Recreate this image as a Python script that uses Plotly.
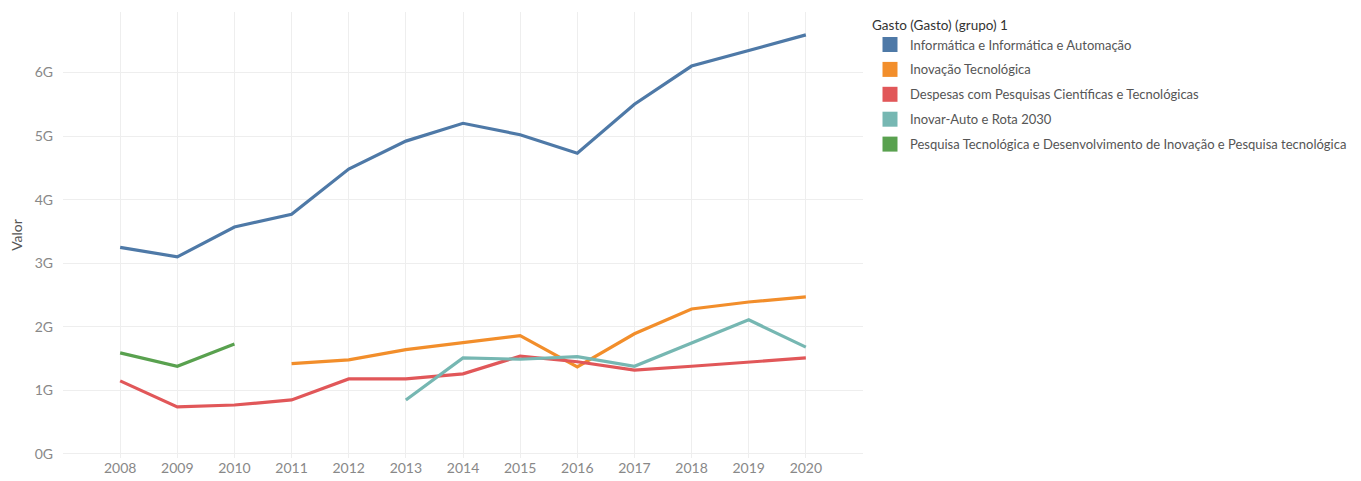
import plotly.graph_objects as go

years = list(range(2008, 2021))

series_names = [
    "Informática e Informática e Automação",
    "Inovação Tecnológica",
    "Despesas com Pesquisas Científicas e Tecnológicas",
    "Inovar-Auto e Rota 2030",
    "Pesquisa Tecnológica e Desenvolvimento de Inovação e Pesquisa tecnológica",
]
colors = ["#4e79a7", "#f28e2b", "#e15759", "#76b7b2", "#59a14f"]

# values in billions (G)
informatica = [3.25, 3.10, 3.57, 3.77, 4.48, 4.92, 5.20, 5.02, 4.73, 5.50, 6.10, 6.35, 6.59]
inovacao = [None, None, None, 1.42, 1.48, 1.64, 1.75, 1.86, 1.37, 1.89, 2.28, 2.39, 2.47]
despesas = [1.15, 0.74, 0.77, 0.85, 1.18, 1.18, 1.26, 1.54, 1.45, 1.32, 1.38, 1.45, 1.51]
inovar_auto = [None, None, None, None, None, 0.85, 1.51, 1.49, 1.53, 1.38, 1.75, 2.11, 1.68]
pesquisa = [1.59, 1.38, 1.73, None, None, None, None, None, None, None, None, None, None]

y_tickvals = [0, 1, 2, 3, 4, 5, 6]
y_ticktext = ["0G", "1G", "2G", "3G", "4G", "5G", "6G"]

all_series = [informatica, inovacao, despesas, inovar_auto, pesquisa]

FONT = "Lato"

fig = go.Figure()
for name, vals, col in zip(series_names, all_series, colors):
    fig.add_trace(go.Scatter(
        x=years, y=vals, mode="lines", name=name,
        line=dict(color=col, width=3.2), showlegend=False,
        connectgaps=False,
    ))
for i, (name, col) in enumerate(zip(series_names, colors)):
    fig.add_trace(go.Scatter(
        x=[None], y=[None], mode="markers", name=name,
        marker=dict(symbol="square", size=15, color=col),
        legendgroup=f"g{i}", showlegend=True,
    ))

# page body has an 8px margin: figure is 1353x473 so the page is 1361x481
fig.update_layout(
    width=1353, height=473,
    margin=dict(l=55, r=498, t=4, b=23),
    paper_bgcolor="white", plot_bgcolor="white",
    font=dict(family=FONT, size=13, color="#666666"),
    legend=dict(
        x=1.00875, xanchor="left", y=1.0, yanchor="top",
        title=dict(text="Gasto (Gasto) (grupo) 1", font=dict(size=13.5, color="#333333")),
        font=dict(size=13, color="#555555"),
        tracegroupgap=5,
        bgcolor="rgba(0,0,0,0)",
    ),
    xaxis=dict(
        range=[2007, 2021], tickvals=years, ticktext=[str(y) for y in years],
        showgrid=True, gridcolor="#eeeeee", gridwidth=1,
        zeroline=False, showline=False, ticks="",
        automargin=False,
        tickfont=dict(size=14, color="#888888"),
    ),
    yaxis=dict(
        range=[-0.063, 6.95], tickvals=y_tickvals, ticktext=y_ticktext,
        showgrid=True, gridcolor="#eeeeee", gridwidth=1,
        zeroline=False, showline=False, ticks="",
        ticklabelstandoff=9, automargin=False,
        tickfont=dict(size=14, color="#888888"),
        title=dict(text="Valor", font=dict(size=14, color="#555555"), standoff=9),
    ),
)

fig.write_html("out.html")
